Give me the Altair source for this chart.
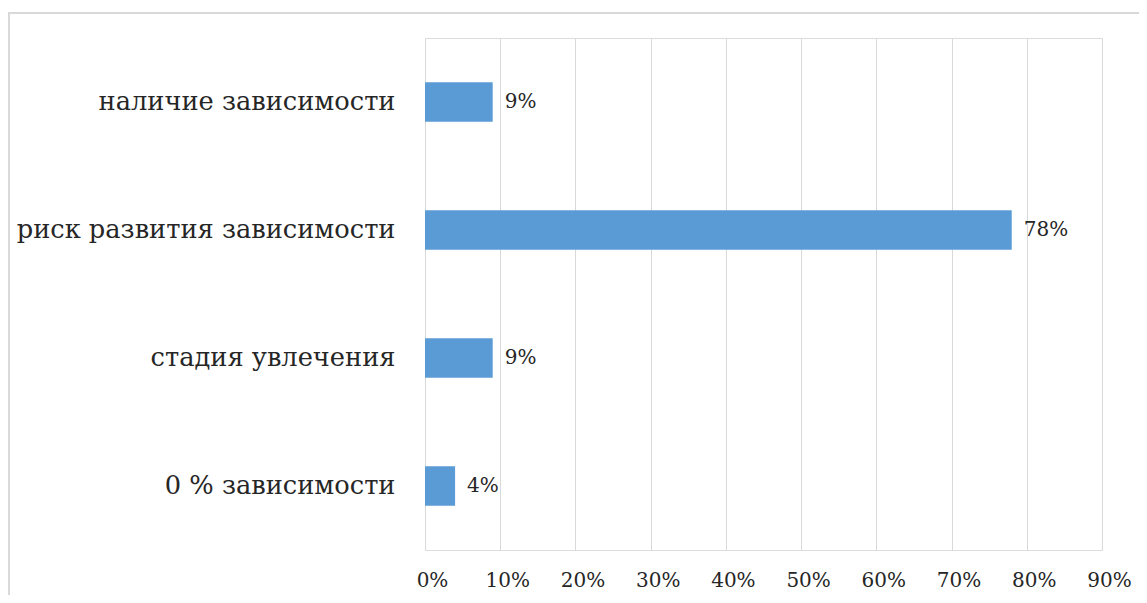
import altair as alt
import pandas as pd

categories = ["наличие зависимости", "риск развития зависимости", "стадия увлечения", "0 % зависимости"]
values = [0.09, 0.78, 0.09, 0.04]
ticks = [0, 0.1, 0.2, 0.3, 0.4, 0.5, 0.6, 0.7, 0.8, 0.9]

df = pd.DataFrame({"category": categories, "value": values})

FONT = "DejaVu Serif"
TXT = "#262626"

base = alt.Chart(df)

bars = base.mark_bar(color="#5B9BD5").encode(
    y=alt.Y("category:N", sort=categories, title=None,
            scale=alt.Scale(paddingInner=0.69, paddingOuter=0.345),
            axis=alt.Axis(labelFont=FONT, labelFontSize=25.7, labelColor=TXT,
                          labelPadding=30, ticks=False, domain=False, grid=False,
                          labelLimit=500)),
    x=alt.X("value:Q", title=None,
            scale=alt.Scale(domain=[0, 0.9], nice=False),
            axis=alt.Axis(values=ticks, format=".0%", labelFont=FONT, labelFontSize=20,
                          labelColor=TXT, labelPadding=20, labelFlush=False, labelOffset=7,
                          ticks=False, domain=False,
                          grid=True, gridColor="#d9d9d9", gridWidth=1)),
)

labels = base.mark_text(align="left", baseline="middle", dx=12, font=FONT,
                        fontSize=20, color=TXT).encode(
    y=alt.Y("category:N", sort=categories),
    x=alt.X("value:Q"),
    text=alt.Text("value:Q", format=".0%"),
)

border_top = alt.Chart(df).mark_rule(color="#d9d9d9", strokeWidth=1.5).encode(
    x=alt.value(-417), x2=alt.value(740), y=alt.value(-25)
)
border_left = alt.Chart(df).mark_rule(color="#d9d9d9", strokeWidth=1.5).encode(
    x=alt.value(-416), y=alt.value(-25), y2=alt.value(600)
)

chart = alt.layer(border_top, border_left, bars, labels).properties(
    width=677, height=512,
    autosize=alt.AutoSizeParams(type="none"),
    padding={"left": 417, "top": 30, "right": 37, "bottom": 45},
).configure_view(stroke=None).configure(background="white")

chart.save("out.html", embed_options={"renderer": "svg", "actions": False})
